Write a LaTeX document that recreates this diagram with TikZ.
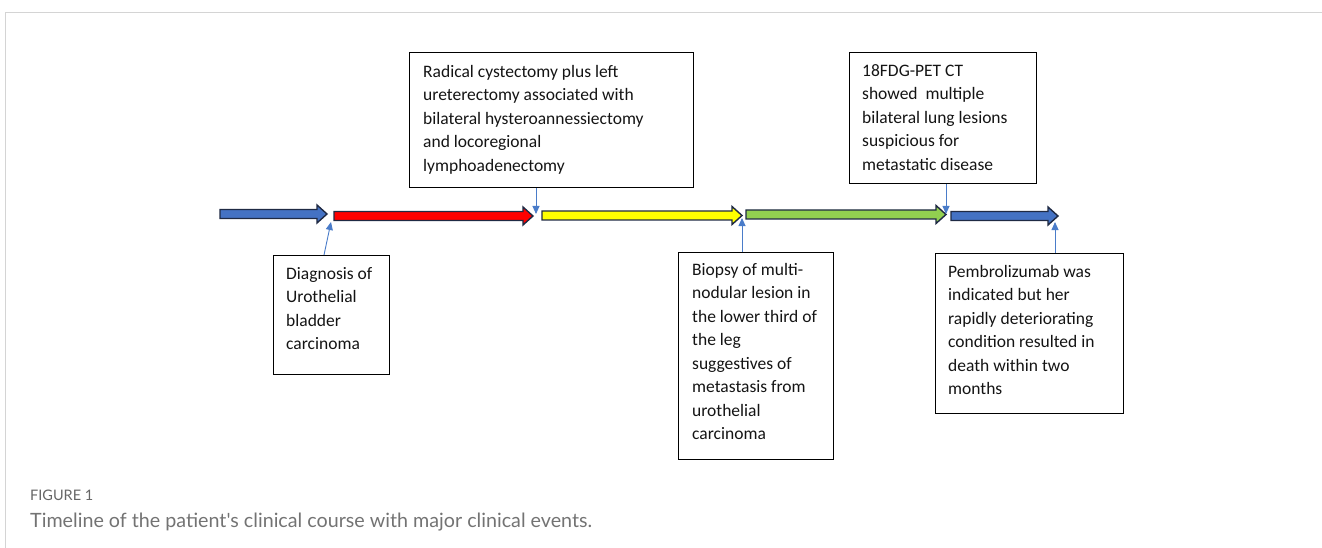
\documentclass[tikz,border=0pt]{standalone}
\usepackage{fontspec}
\setmainfont{Carlito}
\newfontfamily\capfont{Lato}
\usetikzlibrary{arrows.meta,calc}
\definecolor{arrblue}{HTML}{4472C4}
\definecolor{arrred}{HTML}{FF0000}
\definecolor{arryellow}{HTML}{FFFF00}
\definecolor{arrgreen}{HTML}{92D050}
\definecolor{outl}{HTML}{1F2A44}
\definecolor{ptr}{HTML}{4A7CC9}
\definecolor{frame}{HTML}{D4D4D4}
\definecolor{capgray}{HTML}{737373}
\definecolor{figgray}{HTML}{666666}
\newcommand\blockarrow[4]{%
  \draw[arrowline, fill=#1] (#2,#4-4.5) -- (#3-10,#4-4.5) -- (#3-10,#4-9) -- (#3,#4)
    -- (#3-10,#4+9) -- (#3-10,#4+4.5) -- (#2,#4+4.5) -- cycle;}
\tikzset{
  arrowline/.style={draw=outl, line width=1.4pt, line join=miter},
  box/.style={draw=black, line width=1.4pt, anchor=north west, inner sep=0pt},
  txt/.style={anchor=north west, inner sep=0pt, align=left,
    font=\fontsize{17.5}{23.5}\selectfont, text=black!92},
  pointer/.style={draw=ptr, line width=0.9pt, -{Triangle[length=8pt,width=7pt]}},
}
\newcommand\fl{\rule{0pt}{14pt}}
\begin{document}
\begin{tikzpicture}[x=1pt,y=-1pt]
\useasboundingbox (0,0) rectangle (1322,548);
% frame
\draw[frame, line width=1pt] (5,548) -- (5,13) -- (1322,13);
% timeline arrows
\blockarrow{arrblue}{220}{327}{214}
\blockarrow{arrred}{334}{533}{216}
\blockarrow{arryellow}{542}{742}{215.5}
\blockarrow{arrgreen}{746}{946}{214.5}
\blockarrow{arrblue}{951}{1058}{216}
% target points on the timeline
\coordinate (t1) at (331,222);
\coordinate (t2) at (536,214);
\coordinate (t3) at (742,218);
\coordinate (t4) at (946,214);
\coordinate (t5) at (1055,222);
% boxes
\node[box, minimum width=284, minimum height=135] (rad) at (409,52) {};
\node[txt] (radt) at (423,77-14) {\fl Radical cystectomy plus left\\ureterectomy associated with\\bilateral hysteroannessiectomy\\and locoregional\\lymphoadenectomy};
\node[box, minimum width=187, minimum height=131] (pet) at (849,52) {};
\node[txt] (pett) at (862,76-14) {\fl 18FDG-PET CT\\showed\ \ multiple\\bilateral lung lesions\\suspicious for\\metastatic disease};
\node[box, minimum width=116, minimum height=119] (diag) at (273,255) {};
\node[txt] (diagt) at (286,279-14) {\fl Diagnosis of\\Urothelial\\bladder\\carcinoma};
\node[box, minimum width=155, minimum height=207] (bio) at (678,252) {};
\node[txt] (biot) at (692,275-14) {\fl Biopsy of multi-\\nodular lesion in\\the lower third of\\the leg\\suggestives of\\metastasis from\\urothelial\\carcinoma};
\node[box, minimum width=188, minimum height=160] (pem) at (935,253) {};
\node[txt] (pemt) at (948,277-14) {\fl Pembrolizumab was\\indicated but her\\rapidly deteriorating\\condition resulted in\\death within two\\months};
% pointers
\coordinate (d0) at (324,255);
\draw[pointer] (d0) -- (t1);
\draw[pointer] (t2 |- rad.south) -- (t2);
\draw[pointer] (t3 |- bio.north) -- (t3);
\draw[pointer] (t4 |- pet.south) -- (t4);
\draw[pointer] (t5 |- pem.north) -- (t5);
% caption
\node[anchor=base west, inner sep=0pt, text=figgray, font=\capfont\fontsize{14.5}{16}\selectfont] (fig) at (30,500) {FIGURE 1};
\node[anchor=base west, inner sep=0pt, text=capgray, font=\capfont\fontsize{19.7}{22}\selectfont] (cap) at (30,527) {Timeline of the patient's clinical course with major clinical events.};
\end{tikzpicture}
\end{document}
